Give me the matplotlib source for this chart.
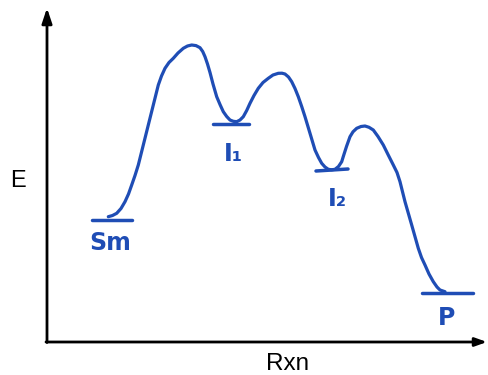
import matplotlib
matplotlib.use("Agg")
import matplotlib.pyplot as plt

# Energy profile (reaction coordinate x, energy y in image units; y grows downward)
curve_x = [108.3, 112.5, 116.7, 121, 125, 128.5, 131.7, 135, 138.3, 143.3, 148.3, 153.3, 158.3, 161.5, 165,
           169, 173.3, 178, 183.3, 187.5, 191.7, 196, 200, 202.7, 205, 207.5, 210, 213, 216.7, 220, 223.3,
           226.7, 230, 233.3, 236.7, 240, 243.3, 246.7, 250, 254, 258.3, 263, 268.3, 273, 278.3, 282, 285,
           288.5, 291.7, 295, 298.3, 301.7, 305, 310, 315, 318.5, 321.7, 325, 328.3, 331.7, 335, 338.5,
           341.7, 343.3, 346.5, 350, 353, 356.7, 361, 365, 369, 373.3, 378, 383.3, 388, 393.3, 397, 400,
           405, 411.7, 418.3, 421.5, 425, 429, 433.3, 437, 440, 445]
curve_y = [216.7, 215.5, 213.3, 208.5, 201.7, 194, 185, 175.5, 165, 145, 125, 105, 85, 76, 68.3,
           62.5, 58.3, 53, 48.3, 46, 45, 45.6, 47.7, 51.5, 56.7, 64, 72.5, 84, 96.7, 104.5, 111.7,
           116.5, 120, 121.3, 121.7, 120, 116.7, 110.5, 103.3, 95.5, 88.3, 82.5, 78.3, 75, 73.3, 73.2, 74,
           77, 81.7, 88.5, 96.7, 106.5, 116.7, 133.3, 150, 157.5, 163.3, 167, 169.3, 169.8, 169.3, 166.5,
           161.7, 156.5, 146.5, 136.7, 131.8, 128.3, 126.5, 126, 127.3, 130, 136.5, 145, 154.5, 165, 172.5, 181.7,
           201.7, 225, 248.3, 257.5, 265, 274, 281.7, 287, 290, 291.7]

# Energy levels: (label, x_start, x_end, y_left, y_right)
level_names = ["Sm", "I₁", "I₂", "P"]
level_x0 = [92, 213, 316, 422]
level_x1 = [132, 249, 348, 473]
level_y0 = [220, 124, 171, 293]
level_y1 = [220, 124, 169, 293]
label_x = [110, 233, 337, 447]
label_y = [243, 154, 199, 318]

blue = "#1f4db5"

fig = plt.figure(figsize=(4.88, 3.75), dpi=100)
ax = fig.add_axes([0, 0, 1, 1])
ax.set_xlim(0, 488)
ax.set_ylim(375, 0)
ax.axis("off")

# Axes arrows
ax.annotate("", xy=(47, 8), xytext=(47, 342.5),
            arrowprops=dict(arrowstyle="-|>,head_length=0.9,head_width=0.3", color="black", lw=2,
                            shrinkA=0, shrinkB=0))
ax.annotate("", xy=(487, 342), xytext=(46, 342),
            arrowprops=dict(arrowstyle="-|>,head_length=0.7,head_width=0.25", color="black", lw=2,
                            shrinkA=0, shrinkB=0))

ax.text(18, 181, "E", fontsize=17, family="Liberation Sans", ha="center", va="center")
ax.text(288, 370, "Rxn", fontsize=17.5, family="Liberation Sans", ha="center", va="baseline")

# Energy curve
ax.plot(curve_x, curve_y, color=blue, lw=2.3, solid_capstyle="round", solid_joinstyle="round")

for name, x0, x1, y0, y1, lx, ly in zip(level_names, level_x0, level_x1, level_y0, level_y1, label_x, label_y):
    ax.plot([x0, x1], [y0, y1], color=blue, lw=2.5, solid_capstyle="round")
    ax.text(lx, ly, name, fontsize=17, color=blue, ha="center", va="center",
            family="DejaVu Sans", fontweight="bold")

fig.savefig("out.png", dpi=100)
